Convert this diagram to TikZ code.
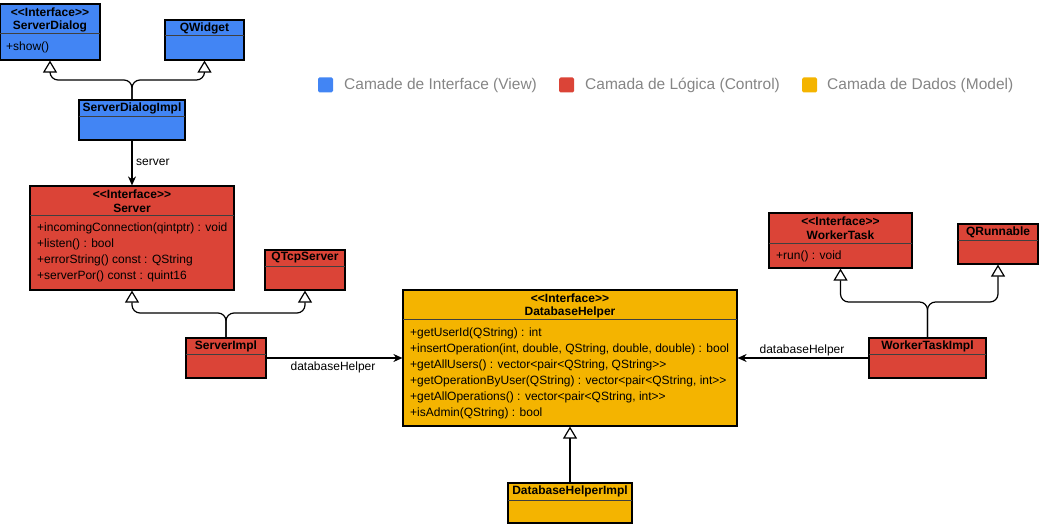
\documentclass[tikz,border=0pt]{standalone}
\usepackage{fontspec}
\setmainfont{Liberation Sans}[Ligatures=TeXOff]
\usetikzlibrary{arrows.meta,fit}
\definecolor{gblue}{HTML}{4285F4}
\definecolor{gred}{HTML}{DB4437}
\definecolor{gyellow}{HTML}{F4B400}
\definecolor{leggrey}{HTML}{858585}
\tikzset{
  cls/.style={draw=black, line width=1.2pt, inner sep=0pt},
  divline/.style={draw=black!75, line width=1pt},
  hdr/.style={font=\fontsize{12}{14}\selectfont\bfseries, inner sep=0pt, align=center},
  meth/.style={font=\fontsize{12}{14}\selectfont, inner sep=0pt, anchor=west},
  lbl/.style={font=\fontsize{12}{14}\selectfont, inner sep=0pt},
  inh/.style={line width=1.2pt, rounded corners=8pt, -{Triangle[length=12pt,width=14pt,fill=white]}},
  assoc/.style={line width=1.2pt, -{Stealth[length=9pt,width=8pt]}},
  legsq/.style={fill=#1, draw=none, rounded corners=1.5pt},
  legtxt/.style={font=\fontsize{15.5}{18}\selectfont, text=leggrey, anchor=west, inner sep=0pt}
}
\newcommand{\umlbox}[7]{%
  \node[cls, fill=#7, fit={(#2,#3) (#4,#5)}] (#1) {};
  \draw[divline] (#2,#6) -- (#4,#6);
}
\begin{document}
\begin{tikzpicture}[x=1pt,y=-1pt]
\useasboundingbox (0,0) rectangle (1042,526);
% ---- classes ----
\umlbox{sd}{0}{4}{100}{60}{34}{gblue}
\node[hdr] at (50,12) {<{}<Interface>{}>};
\node[hdr] at (50,26) {ServerDialog};
\node[meth] at (6,47) {+show()};

\umlbox{qw}{165}{20}{244}{60}{36}{gblue}
\node[hdr] at (204.5,28) {QWidget};

\umlbox{sdi}{79}{100}{185}{140}{117}{gblue}
\node[hdr] at (132,108) {ServerDialogImpl};

\umlbox{srv}{30}{186}{234}{290}{216}{gred}
\node[hdr] at (132,194) {<{}<Interface>{}>};
\node[hdr] at (132,208) {Server};
\node[meth] at (37,228) {+incomingConnection(qintptr) : void};
\node[meth] at (37,244) {+listen() : bool};
\node[meth] at (37,260) {+errorString() const : QString};
\node[meth] at (37,276) {+serverPor() const : quint16};

\umlbox{qtcp}{265}{250}{345}{290}{267}{gred}
\node[hdr] at (305,258) {QTcpServer};

\umlbox{si}{186}{338}{266}{378}{355}{gred}
\node[hdr] at (226,346) {ServerImpl};

\umlbox{dh}{403}{290}{737}{426}{320}{gyellow}
\node[hdr] at (570,298) {<{}<Interface>{}>};
\node[hdr] at (570,312) {DatabaseHelper};
\node[meth] at (410,333) {+getUserId(QString) : int};
\node[meth] at (410,349) {+insertOperation(int, double, QString, double, double) : bool};
\node[meth] at (410,365) {+getAllUsers() : vector<pair<QString, QString>{}>};
\node[meth] at (410,381) {+getOperationByUser(QString) : vector<pair<QString, int>{}>};
\node[meth] at (410,397) {+getAllOperations() : vector<pair<QString, int>{}>};
\node[meth] at (410,413) {+isAdmin(QString) : bool};

\umlbox{dhi}{508}{483}{632}{523}{500}{gyellow}
\node[hdr] at (570,491) {DatabaseHelperImpl};

\umlbox{wt}{769}{213}{912}{268}{244}{gred}
\node[hdr] at (840.5,221) {<{}<Interface>{}>};
\node[hdr] at (840.5,235) {WorkerTask};
\node[meth] at (776,256) {+run() : void};

\umlbox{qr}{958}{224}{1038}{264}{241}{gred}
\node[hdr] at (998,232) {QRunnable};

\umlbox{wti}{869}{338}{986}{378}{355}{gred}
\node[hdr] at (927.5,346) {WorkerTaskImpl};

% ---- inheritance ----
\coordinate (j1) at (132,80);
\draw[inh] (sdi.north) -- (j1) -| (sd.south);
\draw[inh] (sdi.north) -- (j1) -| (qw.south);
\coordinate (j2) at (226,313);
\draw[inh] (si.north) -- (j2) -| (srv.south);
\draw[inh] (si.north) -- (j2) -| (qtcp.south);
\coordinate (j3) at (927.5,302);
\draw[inh] (wti.north) -- (j3) -| (wt.south);
\draw[inh] (wti.north) -- (j3) -| (qr.south);
\draw[inh] (dhi.north) -- (dh.south);

% ---- associations ----
\draw[assoc] (sdi.south) -- (srv.north);
\node[lbl, anchor=west] (lserver) at (136,162) {server};
\draw[assoc] (si.east) -- (dh.west |- si.east);
\node[lbl] (ldh1) at (333,367) {databaseHelper};
\draw[assoc] (wti.west) -- (dh.east |- wti.west);
\node[lbl] (ldh2) at (802,350) {databaseHelper};

% ---- legend ----
\node[legsq=gblue, minimum size=15pt, inner sep=0pt] (lb) at (325.5,85) {};
\node[legtxt] (tb) at (344,85) {Camade de Interface (View)};
\node[legsq=gred, minimum size=15pt, inner sep=0pt] (lr) at (566.5,85) {};
\node[legtxt] (tr) at (585,85) {Camada de Lógica (Control)};
\node[legsq=gyellow, minimum size=15pt, inner sep=0pt] (ly) at (809.5,85) {};
\node[legtxt] (ty) at (827,85) {Camada de Dados (Model)};
\end{tikzpicture}
\end{document}
